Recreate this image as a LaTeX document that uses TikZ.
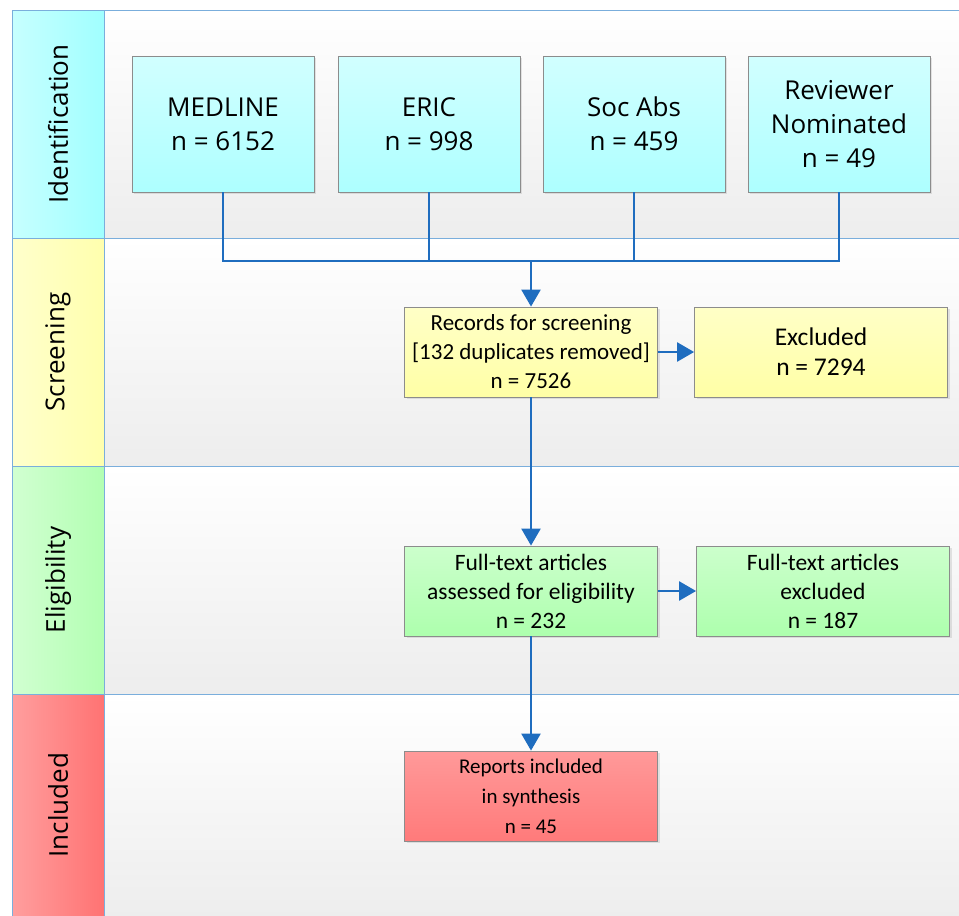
\documentclass[tikz,border=0pt]{standalone}
\usepackage{fontspec}
\setmainfont{Carlito}
\newfontfamily\opensans{Open Sans}
\usetikzlibrary{arrows.meta,shadows}

\definecolor{flowblue}{HTML}{1F6DBF}
\definecolor{laneline}{HTML}{7AAEDC}
\definecolor{boxline}{HTML}{8C8C8C}

\begin{document}
\begin{tikzpicture}[x=1pt,y=-1pt]
\tikzset{lane/.style={top color=white,bottom color=black!7,draw=none}}
\tikzset{band/.style={rotate=90,font=\opensans\fontsize{26}{30}\selectfont}}
\tikzset{box/.style={draw=boxline,line width=0.8pt,align=center,inner sep=2pt,
  drop shadow={opacity=0.2,shadow xshift=2pt,shadow yshift=-2pt}}}
\tikzset{srcbox/.style={box,top color=cyan!18,bottom color=cyan!32,
  minimum width=182pt,minimum height=136pt,font=\opensans\fontsize{26}{34}\selectfont}}
\tikzset{stagebox/.style={box,minimum width=253pt,minimum height=90pt,font=\fontsize{23}{29}\selectfont}}
\tikzset{flow/.style={draw=flowblue,line width=2.4pt}}
\tikzset{flowarrow/.style={flow,-{Triangle[length=17pt,width=19pt]}}}

\useasboundingbox (0,0) rectangle (959,916);

% lanes
\shade[lane] (104,10) rectangle (959,238);
\shade[lane] (104,238) rectangle (959,466);
\shade[lane] (104,466) rectangle (959,694);
\shade[lane] (104,694) rectangle (959,916);
\shade[left color=cyan!22,right color=cyan!37] (12,10) rectangle (104,238);
\shade[left color=yellow!20,right color=yellow!32] (12,238) rectangle (104,466);
\shade[left color=green!18,right color=green!30] (12,466) rectangle (104,694);
\shade[left color=red!38,right color=red!55] (12,694) rectangle (104,916);
\draw[laneline,line width=1pt] (959,10) -- (12,10) -- (12,916);
\draw[laneline,line width=1pt] (104,10) -- (104,916);
\foreach \y in {238,466,694}
  \draw[laneline,line width=1pt] (12,\y) -- (959,\y);

\node[band] (ident) at (58,124) {Identification};
\node[band] (screen) at (58,352) {Screening};
\node[band] (elig) at (58,580) {Eligibility};
\node[band] (incl) at (58,805) {Included};

% sources
\node[srcbox] (medline) at (223,124) {MEDLINE\\n = 6152};
\node[srcbox] (eric) at (429,124) {ERIC\\n = 998};
\node[srcbox] (socabs) at (634,124) {Soc Abs\\n = 459};
\node[srcbox] (review) at (839,124) {Reviewer\\Nominated\\n = 49};

\coordinate (join) at (531,261);

\node[stagebox,top color=yellow!22,bottom color=yellow!35] (records) at (531,352)
  {Records for screening\\{}[132 duplicates removed]\\n = 7526};
\node[stagebox,top color=yellow!22,bottom color=yellow!35,font=\fontsize{25.5}{30}\selectfont] (excl) at (821,352)
  {Excluded\\n = 7294};
\node[stagebox,top color=green!20,bottom color=green!32,font=\fontsize{23.5}{29}\selectfont] (fulltext) at (531,591)
  {Full-text articles\\assessed for eligibility\\n = 232};
\node[stagebox,top color=green!20,bottom color=green!32,font=\fontsize{23.5}{29}\selectfont] (ftexcl) at (823,591)
  {Full-text articles\\excluded\\n = 187};
\node[stagebox,top color=red!40,bottom color=red!52,font=\fontsize{21}{30}\selectfont] (reports) at (531,796)
  {Reports included\\in synthesis\\n = 45};

\draw[flow] (medline.south) |- (join);
\draw[flow] (eric.south) |- (join);
\draw[flow] (socabs.south) |- (join);
\draw[flow] (review.south) |- (join);
\draw[flowarrow] (join) -- (records.north);
\draw[flowarrow] (records) -- (excl);
\draw[flowarrow] (records) -- (fulltext);
\draw[flowarrow] (fulltext) -- (ftexcl);
\draw[flowarrow] (fulltext) -- (reports);
\end{tikzpicture}
\end{document}
